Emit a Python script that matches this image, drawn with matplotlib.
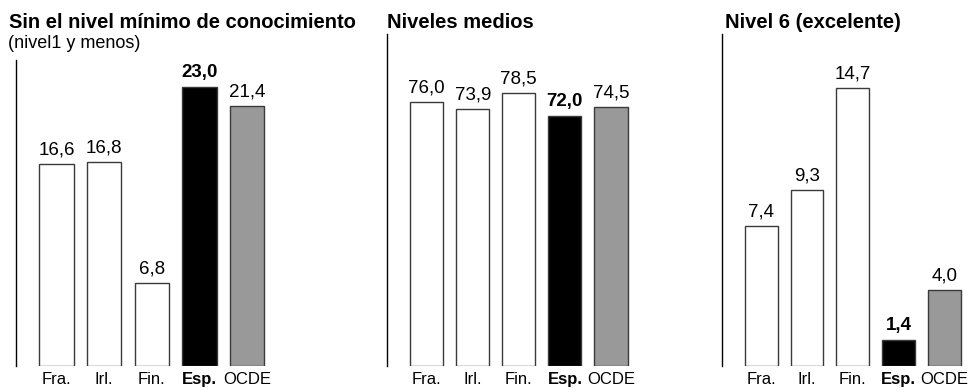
import numpy as np
import matplotlib.pyplot as plt

plt.rcParams['font.family'] = ['Liberation Sans', 'DejaVu Sans']

# Datos
paises = ['Fra.', 'Irl.', 'Fin.', 'Esp.', 'OCDE']
sin_nivel = [16.6, 16.8, 6.8, 23.0, 21.4]
niveles_medios = [76.0, 73.9, 78.5, 72.0, 74.5]
nivel_6 = [7.4, 9.3, 14.7, 1.4, 4.0]

titulos = ['Sin el nivel mínimo de conocimiento', 'Niveles medios', 'Nivel 6 (excelente)']
subtitulo = '(nivel1 y menos)'

colores = ['white', 'white', 'white', 'black', '#999999']

W, H = 970, 390
fig = plt.figure(figsize=(W / 100, H / 100), dpi=100)

base = 366  # línea base en px desde arriba

# datos, x eje (px), x derecha (px), y tope (px), xmin, xmax, ymax, x título
paneles = [
    (sin_nivel, 16, 271, 60, -0.85, 4.5, 25.2, 9),
    (niveles_medios, 387, 634, 34, -0.86, 4.5, 95.5, 387),
    (nivel_6, 722, 967, 34, -0.86, 4.5, 17.56, 725),
]

for (valores, x0, x1, y0, xmin, xmax, ymax, xt), titulo in zip(paneles, titulos):
    ax = fig.add_axes([x0 / W, (H - base) / H, (x1 - x0) / W, (base - y0) / H])
    x = np.arange(len(paises))
    barras = ax.bar(x, valores, width=0.72, color=colores, edgecolor='#3a3a3a', linewidth=1)
    ax.set_xlim(xmin, xmax)
    ax.set_ylim(0, ymax)

    for i, (b, v) in enumerate(zip(barras, valores)):
        ax.annotate(f'{v:.1f}'.replace('.', ','), (b.get_x() + b.get_width() / 2, v),
                    xytext=(0, 4), textcoords='offset points', ha='center', va='bottom',
                    fontsize=13.5, fontweight='bold' if paises[i] == 'Esp.' else 'normal')

    ax.set_xticks(x)
    ax.set_xticklabels(paises, fontsize=12)
    ax.tick_params(axis='x', length=0, pad=4.5)
    ax.get_xticklabels()[3].set_fontweight('bold')
    ax.set_yticks([])
    for lado in ['top', 'right', 'bottom']:
        ax.spines[lado].set_visible(False)
    ax.spines['left'].set_linewidth(1)

    fig.text(xt / W, 1 - 28 / H, titulo, fontsize=14.5, fontweight='bold', va='baseline')

fig.text(8 / W, 1 - 48 / H, subtitulo, fontsize=13, va='baseline')

plt.savefig('out.png', dpi=100)
